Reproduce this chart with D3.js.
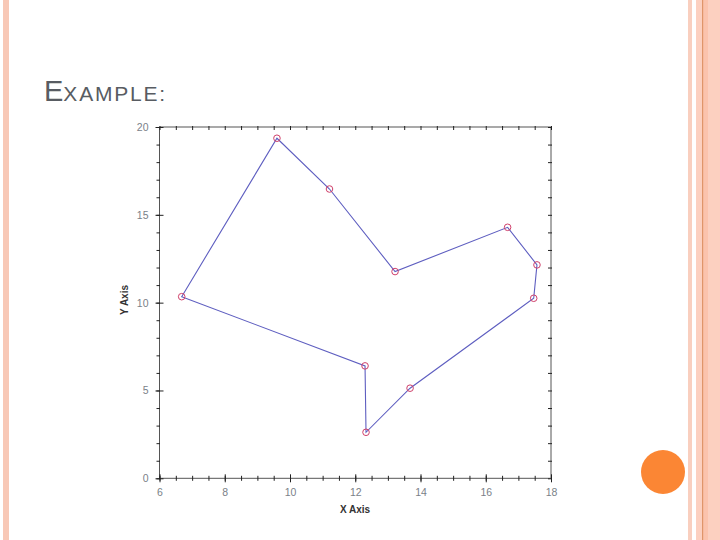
<!DOCTYPE html>
<html>
<head>
<meta charset="utf-8">
<script src="https://cdn.jsdelivr.net/npm/d3@7"></script>
<style>
  body { margin: 0; background: #fff; }
  svg { display: block; font-family: "Liberation Sans", Arial, sans-serif; }
</style>
</head>
<body>
<svg id="chart" width="720" height="540"></svg>
<script>
// data, polygon is closed back to the first point
const xValues = [6.68, 9.60, 11.21, 13.22, 16.67, 17.57, 17.47, 13.68, 12.33, 12.30];
const yValues = [10.34, 19.36, 16.47, 11.77, 14.29, 12.15, 10.25, 5.13, 2.62, 6.40];
const xTickLabels = [6, 8, 10, 12, 14, 16, 18];
const yTickLabels = [0, 5, 10, 15, 20];

const svg = d3.select("#chart");

// slide decoration
svg.append("rect").attr("x", 3).attr("y", 0).attr("width", 6).attr("height", 540).attr("fill", "#f8c8b6");
svg.append("rect").attr("x", 688).attr("y", 0).attr("width", 4).attr("height", 540).attr("fill", "#f9cfbf");
svg.append("rect").attr("x", 696).attr("y", 0).attr("width", 24).attr("height", 540).attr("fill", "#fcd0c0");
svg.append("rect").attr("x", 703).attr("y", 0).attr("width", 5).attr("height", 540).attr("fill", "#fbc3ad");
svg.append("rect").attr("x", 702).attr("y", 0).attr("width", 1.2).attr("height", 540).attr("fill", "#e0956a");
svg.append("circle").attr("cx", 663).attr("cy", 472).attr("r", 22).attr("fill", "#fb8634");

const title = svg.append("text").attr("x", 44).attr("y", 101).attr("fill", "#585c62");
title.append("tspan").attr("font-size", 29).text("E");
title.append("tspan").attr("font-size", 21).attr("letter-spacing", 1.8).text("XAMPLE:");

// plot
const pLeft = 159.5, pRight = 551, pTop = 127, pBottom = 478.3;
const x = d3.scaleLinear().domain([6, 18]).range([pLeft, pRight]);
const y = d3.scaleLinear().domain([0, 20]).range([pBottom, pTop]);

svg.append("rect")
  .attr("x", pLeft).attr("y", pTop)
  .attr("width", pRight - pLeft).attr("height", pBottom - pTop)
  .attr("fill", "none").attr("stroke", "#555").attr("stroke-width", 1);

function styleTicks(g, a, b) {
  g.select(".domain").remove();
  g.selectAll(".tick line").attr("stroke", "#222").attr("stroke-width", 1);
  g.selectAll(".tick line").each(function () {
    const l = d3.select(this);
    if (l.attr("x2") !== null && +l.attr("x2") !== 0) l.attr("x1", a).attr("x2", b);
    else l.attr("y1", a).attr("y2", b);
  });
}

// minor ticks
const xMinor = d3.range(6, 18.001, 0.5);
const yMinor = d3.range(0, 20.001, 1);

svg.append("g").attr("transform", `translate(0,${pBottom})`)
  .call(d3.axisBottom(x).tickValues(xMinor).tickFormat("").tickSize(3))
  .call(g => styleTicks(g, -2.5, 2.5));
svg.append("g").attr("transform", `translate(0,${pTop})`)
  .call(d3.axisBottom(x).tickValues(xMinor).tickFormat("").tickSize(3))
  .call(g => styleTicks(g, -1, 3));
svg.append("g").attr("transform", `translate(${pLeft},0)`)
  .call(d3.axisLeft(y).tickValues(yMinor).tickFormat("").tickSize(3))
  .call(g => styleTicks(g, -3, 0.5));
svg.append("g").attr("transform", `translate(${pRight},0)`)
  .call(d3.axisLeft(y).tickValues(yMinor).tickFormat("").tickSize(3))
  .call(g => styleTicks(g, -3, 1));

// major ticks with labels
const xAxis = svg.append("g").attr("transform", `translate(0,${pBottom})`)
  .call(d3.axisBottom(x).tickValues(xTickLabels).tickSize(4).tickPadding(6))
  .call(g => styleTicks(g, -4, 4));
xAxis.selectAll("text").attr("font-size", 10.5).attr("fill", "#7a7f88").attr("font-family", "Liberation Sans, Arial, sans-serif");

const yAxis = svg.append("g").attr("transform", `translate(${pLeft},0)`)
  .call(d3.axisLeft(y).tickValues(yTickLabels).tickSize(4).tickPadding(7))
  .call(g => styleTicks(g, -4, 4));
yAxis.selectAll("text").attr("font-size", 10.5).attr("fill", "#7a7f88").attr("font-family", "Liberation Sans, Arial, sans-serif");

// axis titles
svg.append("text").attr("x", 355).attr("y", 513).attr("text-anchor", "middle")
  .attr("font-size", 10).attr("font-weight", "bold").attr("fill", "#333").text("X Axis");
svg.append("text").attr("transform", "translate(128,300) rotate(-90)").attr("text-anchor", "middle")
  .attr("font-size", 10).attr("font-weight", "bold").attr("fill", "#333").text("Y Axis");

// polygon
const pts = xValues.map((v, i) => [v, yValues[i]]);
const line = d3.line().x(d => x(d[0])).y(d => y(d[1])).curve(d3.curveLinearClosed);
svg.append("path").datum(pts)
  .attr("d", line)
  .attr("fill", "none").attr("stroke", "#5e5ec0").attr("stroke-width", 1.1);

svg.append("g").selectAll("circle").data(pts).enter().append("circle")
  .attr("cx", d => x(d[0])).attr("cy", d => y(d[1])).attr("r", 3.3)
  .attr("fill", "none").attr("stroke", "#d0406a").attr("stroke-width", 1);
</script>
</body>
</html>
